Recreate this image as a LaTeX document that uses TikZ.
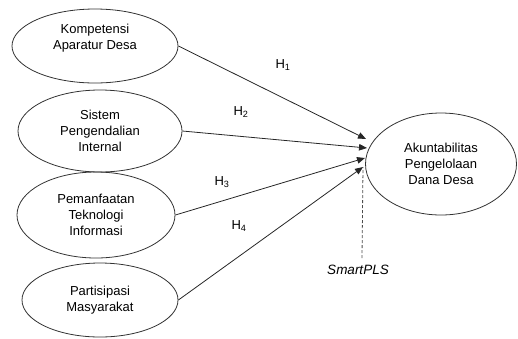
\documentclass[tikz,border=0pt]{standalone}
\usepackage{fontspec}
\setmainfont{Liberation Sans}
\usetikzlibrary{shapes.geometric,arrows.meta}
\begin{document}
\begin{tikzpicture}[x=1pt,y=-1pt,
  var/.style={ellipse,draw=black!80,line width=0.8pt,inner sep=0pt,align=center,font=\fontsize{13}{16}\selectfont},
  hpath/.style={draw=black!85,line width=0.8pt,-{Triangle[length=8pt,width=6.5pt]}},
  hlab/.style={font=\fontsize{13}{15}\selectfont,inner sep=0pt},
  dpath/.style={draw=black!70,line width=0.8pt,dash pattern=on 3pt off 2pt}]
\useasboundingbox (0,0) rectangle (518,338);
\node[var,minimum width=166pt,minimum height=74pt] (e1) at (95,46) {Kompetensi\\Aparatur Desa\\[3pt]};
\node[var,minimum width=164pt,minimum height=82pt] (e2) at (100,131) {Sistem\\Pengendalian\\Internal};
\node[var,minimum width=158pt,minimum height=86pt] (e3) at (96,215) {Pemanfaatan\\Teknologi\\Informasi};
\node[var,minimum width=156pt,minimum height=74pt] (e4) at (100,300) {Partisipasi\\Masyarakat};
\node[var,minimum width=151pt,minimum height=102pt] (t) at (441,164) {Akuntabilitas\\Pengelolaan\\Dana Desa};
\coordinate (t1) at (366,139);
\coordinate (t2) at (367,148);
\coordinate (t3) at (365,158);
\coordinate (t4) at (363,167);
\draw[hpath] (e1.east) -- (t1);
\draw[hpath] (e2.east) -- (t2);
\draw[hpath] (e3.east) -- (t3);
\draw[hpath] (e4.east) -- (t4);
\node[hlab] (h1) at (283,65) {H\textsubscript{1}};
\node[hlab] (h2) at (241,112) {H\textsubscript{2}};
\node[hlab] (h3) at (222,182) {H\textsubscript{3}};
\node[hlab] (h4) at (239,226) {H\textsubscript{4}};
\node[font=\fontsize{13.5}{15}\selectfont\itshape,inner sep=0pt] (sp) at (358,270) {SmartPLS};
\coordinate (d0) at (362,258);
\draw[dpath] (d0) -- (t4);
\end{tikzpicture}
\end{document}
